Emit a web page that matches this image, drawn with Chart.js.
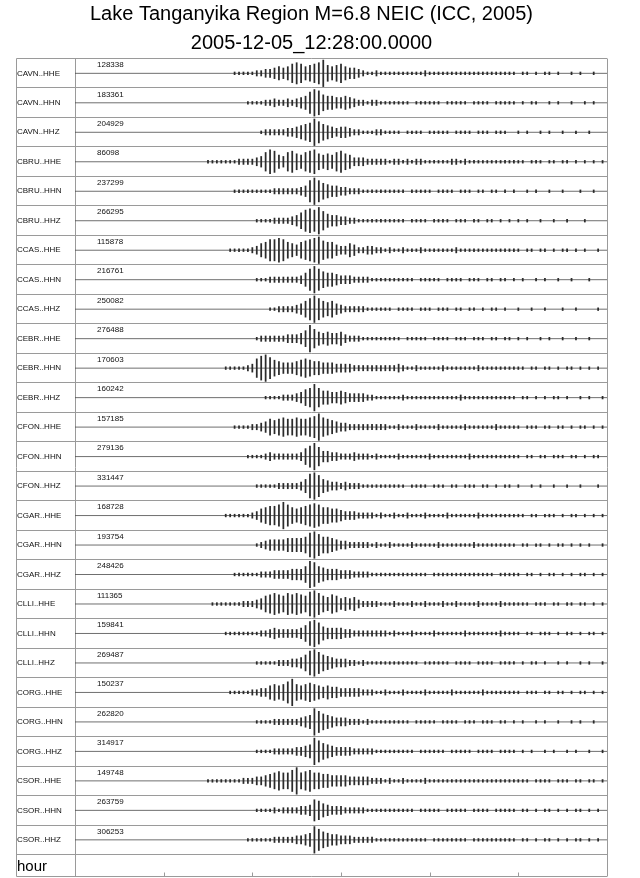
<!DOCTYPE html>
<html>
<head>
<meta charset="utf-8">
<script src="https://cdn.jsdelivr.net/npm/chart.js@4.4.1/dist/chart.umd.min.js"></script>
<style>
  body { margin: 0; background: #fff; }
  canvas { display: block; }
</style>
</head>
<body>
<canvas id="chart" width="640" height="878"></canvas>
<script>
// titolo
const titleLines = ['Lake Tanganyika Region M=6.8 NEIC (ICC, 2005)', '2005-12-05_12:28:00.0000'];

// canali e ampiezza massima (counts)
const channels = [
  'CAVN..HHE', 'CAVN..HHN', 'CAVN..HHZ',
  'CBRU..HHE', 'CBRU..HHN', 'CBRU..HHZ',
  'CCAS..HHE', 'CCAS..HHN', 'CCAS..HHZ',
  'CEBR..HHE', 'CEBR..HHN', 'CEBR..HHZ',
  'CFON..HHE', 'CFON..HHN', 'CFON..HHZ',
  'CGAR..HHE', 'CGAR..HHN', 'CGAR..HHZ',
  'CLLI..HHE', 'CLLI..HHN', 'CLLI..HHZ',
  'CORG..HHE', 'CORG..HHN', 'CORG..HHZ',
  'CSOR..HHE', 'CSOR..HHN', 'CSOR..HHZ'
];
const peakCounts = [
  128338, 183361, 204929,
  86098, 237299, 266295,
  115878, 216761, 250082,
  276488, 170603, 160242,
  157185, 279136, 331447,
  168728, 193754, 248426,
  111365, 159841, 269487,
  150237, 262820, 314917,
  149748, 263759, 306253
];

// asse tempo (minuti dall'inizio), tacche ogni 10 min
const hourTicks = [10, 20, 30, 40, 50];
const startMinute = 13;
const stepMinute = 0.5;

// inviluppo, 0..10, un valore ogni 30 s da 13 min
const envelopes = [
  // CAVN..HHE
  [0,0,0,0,0,0,0,0,0,0, 1,1,1,1,1, 2,2,3,3, 4,5,4,5, 7,8,7, 5,6, 7,8,10, 6,5,6,7,5, 4,4,3, 2,1,1,2,1,1,1,1,1,1,1,1,1,1, 2,1,1,1,1,1,1,1,1,1,1,1,1,1,1,1,1,1,1,1, 1,0,1,1,0,1,0,1,1,0,1,0,0,1,0,1,0,0,1,0,0],
  // CAVN..HHN
  [0,0,0,0,0,0,0,0,0,0,0,0,0, 1,1,1,1, 2,2,3,2,2,3,2,3, 4,5, 8,10,9, 6,5,5, 4,4,5,4,3, 2,2,1,2,2,1,1, 1,1,1,1,1,0,1,1,1,1,1,1,0,1,1,1,1,1,0,1,1,1,1,0,1,1,1,1, 1,0,1,0,1,1,0,0,1,0,1,0,0,1,0,0,1,0,1,0,0],
  // CAVN..HHZ
  [0,0,0,0,0,0,0,0,0,0,0,0,0,0,0,0, 1,2,2,2,2,2,3, 3,4,5, 6,7, 10,8, 6,5,4, 3,4,4,3,2, 2,1,1,1,2,2,1, 1,1,1,0,1,1,1,1,0,1,1,1,1,1,0,1,1,1,1,0,1,1,1,0,1,1,1,0, 0,1,0,1,0,0,1,0,1,0,0,1,0,0,1,0,0,1,0,0,0],
  // CBRU..HHE
  [0,0,0,0, 1,1,1,1,1,1, 1,2,2,2,2, 3,4, 7,9,8, 5,4, 7,8,6,5, 7,8,9, 6,5, 6,5, 7,8,6,5, 3,3,3,2, 2,2,2,2,1,2,2,1,2,1,2,2,1,1,1, 1,1,1,2,2,1,2,1,1,1, 1,1,1,1,1,1,1, 1,1,1,0,1,1,1,0,1,1,0,1,1,0,1,0,1,0,1,0,1],
  // CBRU..HHN
  [0,0,0,0,0,0,0,0,0,0, 1,1,1,1,1, 1,1,1,1,2,2,2,2,2,2, 3,4, 8,10,8, 6,5,4, 4,3,3, 2,2,2,1,1,1,1,1,1, 1,1,1,1,0,1,1,1,1,1,0,1,1,1,1,0,1,1,1,0,1,1,0,1,1,0,1,0, 1,0,0,1,0,1,0,0,1,0,0,1,0,0,0,1,0,0,1,0,0],
  // CBRU..HHZ
  [0,0,0,0,0,0,0,0,0,0,0,0,0,0,0, 1,1,1,1,2,2,2,2, 3,4,6, 8,9,8, 10,7, 5,4,4, 3,3,2,2, 1,1,1,1,1,1,1,1,1,1,1,0,1,1,1,1,0,1,1,1,1,0,1,1,1,0,1,1,0,1,1,0,1,0,1, 0,1,0,1,0,0,1,0,0,1,0,0,1,0,0,0,1,0,0,0,0],
  // CCAS..HHE
  [0,0,0,0,0,0,0,0,0, 1,1,1,1,1, 2,3, 5,6, 8,8,9,8, 6,5, 4,6, 7,8,9,10, 7,6,6, 4,3,3, 5,4, 2,2,3,3, 2,2,1,2,1,1,2,1,1,1,2,1,1,1, 1,1,1,1,2,1,1,1,1,1,1,1,1,1,1,1,1, 1,1,0,1,1,0,1,1,0,1,0,1,1,0,1,0,1,0,0,1,0],
  // CCAS..HHN
  [0,0,0,0,0,0,0,0,0,0,0,0,0,0,0, 1,1,1,2,2,2,2,2,2,2, 3,5, 8,10,8, 6,5,5, 4,3,3,3, 2,2,2,2,1,1,1,1, 1,1,1,1,1,1,0,1,1,1,1,1,0,1,1,1,1,0,1,1,1,0,1,1,0,1,1,0, 1,0,1,0,0,1,0,1,0,0,1,0,0,1,0,0,0,1,0,0,0],
  // CCAS..HHZ
  [0,0,0,0,0,0,0,0,0,0,0,0,0,0,0,0,0,0, 1,1,2,2,2,2, 3,4,6, 8,10,8, 6,5,6, 4,3,2, 2,2,2,2,1, 1,1,1,1,1,0,1,1,1,1,0,1,1,1,0,1,1,1,0,1,1,0,1,1,0,1,0,1,1,0,1,0, 0,1,0,0,1,0,0,1,0,0,0,1,0,0,1,0,0,0,0,1,0],
  // CEBR..HHE
  [0,0,0,0,0,0,0,0,0,0,0,0,0,0,0, 1,2,2,2,2,2,2,3, 3,3,4,6, 10,7, 5,4, 5,4,4,5,3, 2,2,2,1,1, 1,1,1,1,1,1,1,0,1,1,1,1,1,0,1,1,1,1,0,1,1,1,0,1,1,1,0,1,1,0,1,1, 0,1,0,1,0,0,1,0,1,0,0,1,0,0,1,0,0,1,0,0,0],
  // CEBR..HHN
  [0,0,0,0,0,0,0,0, 1,1,1,1,1, 2,3, 7,9, 10,8, 6,5,4, 4,4,5, 6,7,6, 5,5,4, 4,4,3,3,3,3,2, 2,2,2,2,2,2,2,2,2,3,2, 1,1,2,1,1,1,1,1,2,1,1,1,1,1,1,1,2,1,1,1,1,1,1,1, 1,1,1,0,1,1,0,1,1,0,1,0,1,1,0,1,0,1,0,1,0],
  // CEBR..HHZ
  [0,0,0,0,0,0,0,0,0,0,0,0,0,0,0,0,0, 1,1,1,1,2,2,2, 3,4, 6,7, 10,7, 5,5,4, 4,5,4,3, 3,3,3,2,2, 1,1,1,1,1,1,2,1,1,1,1,1,1,1,1,1,1,1,1,2,1,1,1,1,1,1,1,1,1,1,1, 1,0,1,1,0,1,0,1,0,1,1,0,1,0,0,1,0,1,0,0,1],
  // CFON..HHE
  [0,0,0,0,0,0,0,0,0,0, 1,1,1, 1,2,2, 3,4, 6,5,6, 7,6, 6,7,6,6, 7,8,10, 7,6,5, 4,3,3, 2,2,2,2,2,2,2,2,2, 1,1,2,1,1,1,2,1,1,1,1,2,1,1,1,1,1,2,1,1,1,1,1,1,2,1,1,1, 1,1,0,1,1,1,0,1,1,0,1,1,0,1,0,1,1,0,1,0,1],
  // CFON..HHN
  [0,0,0,0,0,0,0,0,0,0,0,0,0, 1,1,1,1,2, 3,2,2, 2,2,2,2,3, 6,8, 10,7, 4,4,3, 3,2,2,2,3,2,2,2, 1,2,1,1,1,1,2,1,1,1,1,1,1,2,1,1,1,1,1,1,1,1,2,1,1,1,1,1,1,1,1,1, 1,1,0,1,1,0,1,1,0,1,1,1,0,1,1,0,1,0,1,1,0],
  // CFON..HHZ
  [0,0,0,0,0,0,0,0,0,0,0,0,0,0,0, 1,1,1,1,1,2,2,2,2,2, 3,5, 9,10,8, 5,4, 3,3,2,3, 2,2,2,1,1,1,1,1,1, 1,1,1,1,0,1,1,1,1,0,1,1,1,0,1,1,0,1,1,1,0,1,1,0,1,0,1,1, 0,1,0,0,1,0,1,0,0,1,0,0,1,0,0,1,0,0,0,1,0],
  // CGAR..HHE
  [0,0,0,0,0,0,0,0, 1,1,1,1,1, 1,2,3, 5,6,7, 7,8, 10,8, 6,5, 6,7, 8,9,8, 6,6,5, 5,4,3, 3,3,2,2,2, 2,1,2,1,1,2,1,1,2,1,1,1,2,1,1,1,1,2,1,1,1,1,1,1,2,1,1,1,1,1,1,1, 1,1,1,0,1,1,0,1,1,1,0,1,0,1,1,0,1,0,1,0,1],
  // CGAR..HHN
  [0,0,0,0,0,0,0,0,0,0,0,0,0,0,0, 1,2,3,4,4,4,4, 5,5,5, 5,6, 9,10,8, 6,6,5, 4,3,3, 2,2,2,2,2,1,2, 1,1,2,1,1,1,1,2,1,1,1,1,1,2,1,1,1,1,1,1,1,2,1,1,1,1,1,1,1,1, 1,0,1,1,0,1,1,0,1,0,1,1,0,1,0,1,0,1,0,0,1],
  // CGAR..HHZ
  [0,0,0,0,0,0,0,0,0,0, 1,1,1,1, 1,1,2,2,2,3,3, 3,3,4,4, 4,6, 10,9, 6,5,4, 4,4,3,3,3, 2,2,2,2, 1,1,1,1,1,1,1,1,1,1,1,1,1,0,1,1,1,1,1,1,1,1,1,1,1,1,1,1,0,1,1,1, 1,1,0,1,1,0,1,0,1,1,0,1,0,1,0,1,1,0,1,0,1],
  // CLLI..HHE
  [0,0,0,0,0, 1,1,1,1,1, 1,1,2,2,2, 3,4, 6,7,8, 7,6,8, 7,8,7,6, 9,10,8, 6,5, 7,6, 4,5,4, 5,3,2, 2,2,2,1,1,1,2,1,1, 1,2,1,1,2,1,1,1,2,1,1,2,1,1,1,1,2,1,1,1,1,2,1,1, 1,1,1,1,0,1,1,1,0,1,1,0,1,1,0,1,1,0,1,0,1],
  // CLLI..HHN
  [0,0,0,0,0,0,0,0, 1,1,1,1,1, 1,1,1,2,2, 3,4,3, 3,3,3,3, 4,6, 9,10,8, 5,4,4, 4,4,3,3, 2,2,2,2,2,2,2,2, 1,2,1,1,1,2,1,1,1,1,2,1,1,1,1,1,1,2,1,1,1,1,1,1,1,2,1,1, 1,1,0,1,1,0,1,1,1,0,1,0,1,1,0,1,0,1,1,0,1],
  // CLLI..HHZ
  [0,0,0,0,0,0,0,0,0,0,0,0,0,0,0, 1,1,1,1,1,2, 2,2,3,3, 4,6, 9,10,8, 6,5,4, 3,3,3,2, 2,1,2,1,1,1,1,1, 1,1,1,1,1,1,1,0,1,1,1,1,1,1,0,1,1,1,1,0,1,1,1,1,0,1,1,1, 1,0,1,0,1,1,0,1,0,0,1,0,1,0,0,1,0,1,0,0,1],
  // CORG..HHE
  [0,0,0,0,0,0,0,0,0, 1,1,1,1, 1,2,2, 3,3, 5,6,5, 6,8,10, 6,5, 6,7,6, 5,4,5, 4,4,3,3, 3,3,3,2,2, 2,1,1,2,1,1,1,2,1,1,1,1,2,1,1,1,1,1,2,1,1,1,1,1,1,2,1,1,1,1,1,1, 1,1,0,1,1,1,0,1,1,0,1,1,0,1,0,1,1,0,1,0,1],
  // CORG..HHN
  [0,0,0,0,0,0,0,0,0,0,0,0,0,0,0, 1,1,1,1, 2,2,2,2,2,2, 3,4,5, 10,8, 6,5,4, 3,3,3,2, 2,2,1,2,1,1,1,1, 1,1,1,1,1,0,1,1,1,1,1,0,1,1,1,1,0,1,1,1,0,1,1,1,0,1,1,0, 1,0,1,0,0,1,0,1,0,0,1,0,0,1,0,1,0,0,1,0,0],
  // CORG..HHZ
  [0,0,0,0,0,0,0,0,0,0,0,0,0,0,0, 1,1,1,1,2,2,2,2, 2,3,3, 4,5, 10,8, 6,5,4, 3,3,3,3, 2,2,2,2,2,1, 1,1,1,1,1,1,1,1,0,1,1,1,1,1,1,0,1,1,1,1,1,0,1,1,1,1,0,1,1,1, 1,0,1,0,1,0,0,1,0,1,0,0,1,0,1,0,0,1,0,0,1],
  // CSOR..HHE
  [0,0,0,0, 1,1,1,1, 1,1,1,1,2,2, 2,3,3, 4,5, 6,7,6, 6,8,10, 6,7,8, 6,6,5, 5,4,4, 4,4,3,3,3, 3,3,2,2, 2,1,2,1,1,2,1,1,1,1,2,1,1, 1,1,1,1,1,1,1,1,1,1,1,1,1,1,1,1,1, 1,1,1,1,0,1,1,1,1,0,1,1,1,0,1,1,0,1,1,0,1],
  // CSOR..HHN
  [0,0,0,0,0,0,0,0,0,0,0,0,0,0,0, 1,1,1,1, 2, 1,2,2,2,2, 3,3,4, 8,7, 5,4,3, 3,3,2,2, 2,2,2,1,1,1,1,1, 1,1,1,1,1,1,0,1,1,1,1,1,0,1,1,1,1,1,0,1,1,1,1,0,1,1,1,1, 1,0,1,1,0,1,0,1,1,0,1,0,1,0,1,1,0,1,0,1,0],
  // CSOR..HHZ
  [0,0,0,0,0,0,0,0,0,0,0,0,0, 1,1,1,1,1,1, 2,2,2,2,2,3, 3,4,5, 10,8, 6,5,4, 4,3,3,3, 2,2,2,2,2,1, 1,1,1,1,1,1,1,1,1,1,1,0,1,1,1,1,1,1,1,1,0,1,1,1,1,1,1,1,1,1, 1,0,1,1,0,1,0,1,1,0,1,0,1,0,1,1,0,1,0,1,0]
];

const totMinutes = 60;
const rowBase = 0.52;      // linea di zero dentro la riga
const ampUnit = 0.045;     // mezza altezza per unita' di inviluppo (in righe)
const gridColor = '#9a9a9a';
const fontFamily = '"Liberation Sans", Arial, Helvetica, sans-serif';

let datasets = [];
for (let i = 0; i < channels.length; i++) {
  let c = i + rowBase;
  let bars = [];
  for (let k = 0; k < envelopes[i].length; k++) {
    let v = envelopes[i][k];
    if (v > 0) {
      bars.push({ x: startMinute + k * stepMinute, y: [c - v * ampUnit, c + v * ampUnit] });
    }
  }
  datasets.push({
    type: 'bar',
    label: channels[i],
    data: bars,
    backgroundColor: '#2b2b2b',
    borderWidth: 0,
    barThickness: 1.1,
    grouped: false,
    order: 0
  });
  datasets.push({
    type: 'line',
    label: channels[i] + ' base',
    data: [{ x: 0, y: c }, { x: totMinutes, y: c }],
    borderColor: '#4a4a4a',
    borderWidth: 0.8,
    pointRadius: 0,
    order: 1
  });
}

// griglia, colonna nomi, riga "hour"
const seisFrame = {
  id: 'seisFrame',
  beforeDatasetsDraw(chart) {
    const ctx = chart.ctx;
    const area = chart.chartArea;
    const xs = chart.scales.x;
    const ys = chart.scales.y;
    const frameLeft = 16.5;
    const frameBottom = 876.5;
    ctx.save();
    ctx.strokeStyle = gridColor;
    ctx.lineWidth = 1;
    ctx.beginPath();
    for (let i = 0; i <= channels.length; i++) {
      let y = Math.round(ys.getPixelForValue(i)) + 0.5;
      ctx.moveTo(frameLeft, y);
      ctx.lineTo(area.right, y);
    }
    ctx.moveTo(frameLeft, frameBottom);
    ctx.lineTo(area.right, frameBottom);
    [frameLeft, Math.round(area.left) + 0.5, Math.round(area.right) + 0.5].forEach(x => {
      ctx.moveTo(x, Math.round(area.top) + 0.5);
      ctx.lineTo(x, frameBottom);
    });
    hourTicks.forEach(t => {
      let x = Math.round(xs.getPixelForValue(t)) + 0.5;
      ctx.moveTo(x, frameBottom - 4);
      ctx.lineTo(x, frameBottom);
    });
    ctx.stroke();
    ctx.restore();
  },
  afterDatasetsDraw(chart) {
    const ctx = chart.ctx;
    const area = chart.chartArea;
    const ys = chart.scales.y;
    ctx.save();
    ctx.fillStyle = '#111';
    ctx.textBaseline = 'middle';
    ctx.textAlign = 'left';
    ctx.font = '8px ' + fontFamily;
    for (let i = 0; i < channels.length; i++) {
      let y = ys.getPixelForValue(i + rowBase);
      ctx.fillText(channels[i], 17, y);
      ctx.fillText(String(peakCounts[i]), area.left + 22, y - 8.5);
    }
    ctx.font = '15px ' + fontFamily;
    ctx.fillStyle = '#000';
    ctx.fillText('hour', 17, 867);
    ctx.restore();
  }
};

new Chart('chart', {
  type: 'bar',
  data: { datasets: datasets },
  plugins: [seisFrame],
  options: {
    responsive: false,
    animation: false,
    layout: { padding: { left: 16, right: 33, top: 0, bottom: 24 } },
    plugins: {
      legend: { display: false },
      tooltip: { enabled: false },
      title: {
        display: true,
        text: titleLines,
        color: '#000',
        font: { family: fontFamily, size: 20, weight: 'normal', lineHeight: 1.45 },
        padding: { top: 0, bottom: 0 }
      }
    },
    scales: {
      x: {
        type: 'linear',
        min: 0,
        max: totMinutes,
        offset: false,
        display: false
      },
      y: {
        type: 'linear',
        min: 0,
        max: channels.length,
        reverse: true,
        ticks: { display: false },
        grid: { display: false },
        border: { display: false },
        afterFit: (scale) => { scale.width = 59; }
      }
    }
  }
});
</script>
</body>
</html>
